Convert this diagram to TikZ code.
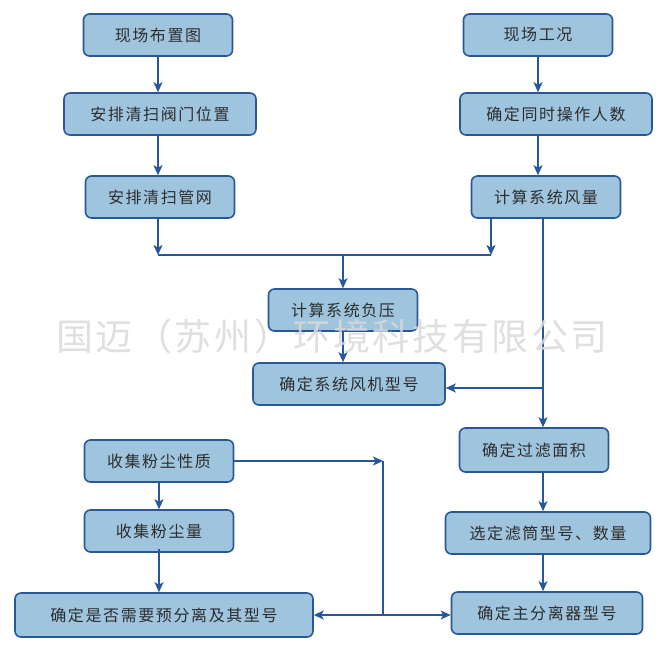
\documentclass[tikz,border=0pt]{standalone}
\usepackage{fontspec}
\usepackage{xcolor}
\usepackage{tikz}
\usetikzlibrary{arrows.meta, positioning, calc}
\newfontfamily\cjk{Noto Sans CJK SC}
\newfontfamily\cjkwm[LetterSpace=7]{Noto Sans CJK SC}
\newfontfamily\cjkbox[LetterSpace=10]{Noto Sans CJK SC}
\definecolor{boxblue}{RGB}{158, 196, 222}
\definecolor{edgeblue}{RGB}{42, 88, 150}
\definecolor{lineblue}{RGB}{38, 86, 155}
\definecolor{textgray}{RGB}{45, 45, 45}

\begin{document}
\begin{tikzpicture}[x=1pt, y=-1pt, >=Stealth,
    stepbox/.style={rectangle, draw=edgeblue, fill=boxblue, line width=1.6pt, rounded corners=6pt, minimum height=42pt, inner sep=0pt, align=center, text=textgray, font=\fontsize{16}{18}\cjkbox},
    arrow/.style={line width=1.5pt, ->, >={Stealth[length=10pt, width=9pt, inset=2.5pt]}, color=lineblue},
    link/.style={line width=1.5pt, color=lineblue}]

    \useasboundingbox (0,0) rectangle (663,657);

    % Left column
    \node[stepbox, minimum width=149pt] (buzhi) at (158,35) {现场布置图};
    \node[stepbox, minimum width=192pt] (famen) at (160,114) {安排清扫阀门位置};
    \node[stepbox, minimum width=149pt] (guanwang) at (160,197) {安排清扫管网};

    % Right column
    \node[stepbox, minimum width=149pt] (gongkuang) at (538,35) {现场工况};
    \node[stepbox, minimum width=192pt] (renshu) at (556,114) {确定同时操作人数};
    \node[stepbox, minimum width=149pt] (fengliang) at (546,197) {计算系统风量};

    % Middle
    \node[stepbox, minimum width=149pt] (fuya) at (343,310) {计算系统负压};
    \node[stepbox, minimum width=192pt] (fengji) at (349,384) {确定系统风机型号};

    % Filter side
    \node[stepbox, minimum width=149pt, minimum height=44pt] (guolv) at (534,450) {确定过滤面积};
    \node[stepbox, minimum width=205pt] (lvtong) at (548,533) {选定滤筒型号、数量};
    \node[stepbox, minimum width=191pt] (zhufenli) at (547,613) {确定主分离器型号};

    % Dust side
    \node[stepbox, minimum width=149pt] (xingzhi) at (159,461) {收集粉尘性质};
    \node[stepbox, minimum width=149pt] (fenchen) at (159,531) {收集粉尘量};
    \node[stepbox, minimum width=298pt, minimum height=44pt] (yufenli) at (164,615) {确定是否需要预分离及其型号};

    % Junctions
    \coordinate (jl) at (158,255);
    \coordinate (jr) at (491,255);
    \coordinate (jb) at (543,388);
    \coordinate (jt) at (383,461);
    \coordinate (jd) at (383,615);

    % Connections
    \draw[arrow] (buzhi) -- (buzhi |- famen.north);
    \draw[arrow] (buzhi |- famen.south) -- (buzhi |- guanwang.north);
    \draw[arrow] (gongkuang) -- (gongkuang |- renshu.north);
    \draw[arrow] (gongkuang |- renshu.south) -- (gongkuang |- fengliang.north);
    \draw[arrow] (jl |- guanwang.south) -- (jl);
    \draw[arrow] (jr |- fengliang.south) -- (jr);
    \draw[link] (jl) -- (jr);
    \draw[arrow] (fuya |- jl) -- (fuya.north);
    \draw[arrow] (fuya) -- (fuya |- fengji.north);
    \draw[arrow] (jb |- fengliang.south) -- (jb |- guolv.north);
    \draw[arrow] (jb) -- (fengji.east |- jb);
    \draw[arrow] (jb |- guolv.south) -- (jb |- lvtong.north);
    \draw[arrow] (jb |- lvtong.south) -- (jb |- zhufenli.north);
    \draw[arrow] (xingzhi) -- (xingzhi |- fenchen.north);
    \draw[arrow] ([yshift=4pt]fenchen.south) -- (fenchen |- yufenli.north);
    \draw[arrow] (xingzhi) -- (jt);
    \draw[link] (jt) -- (jd);
    \draw[arrow] (jd) -- (yufenli.east |- jd);
    \draw[arrow] (jd) -- (zhufenli.west |- jd);

    % Watermark
    \node[text=black!15, text opacity=0.85, font=\fontsize{37}{40}\cjkwm] (shuiyin) at (332,336) {国迈（苏州）环境科技有限公司};
\end{tikzpicture}
\end{document}
